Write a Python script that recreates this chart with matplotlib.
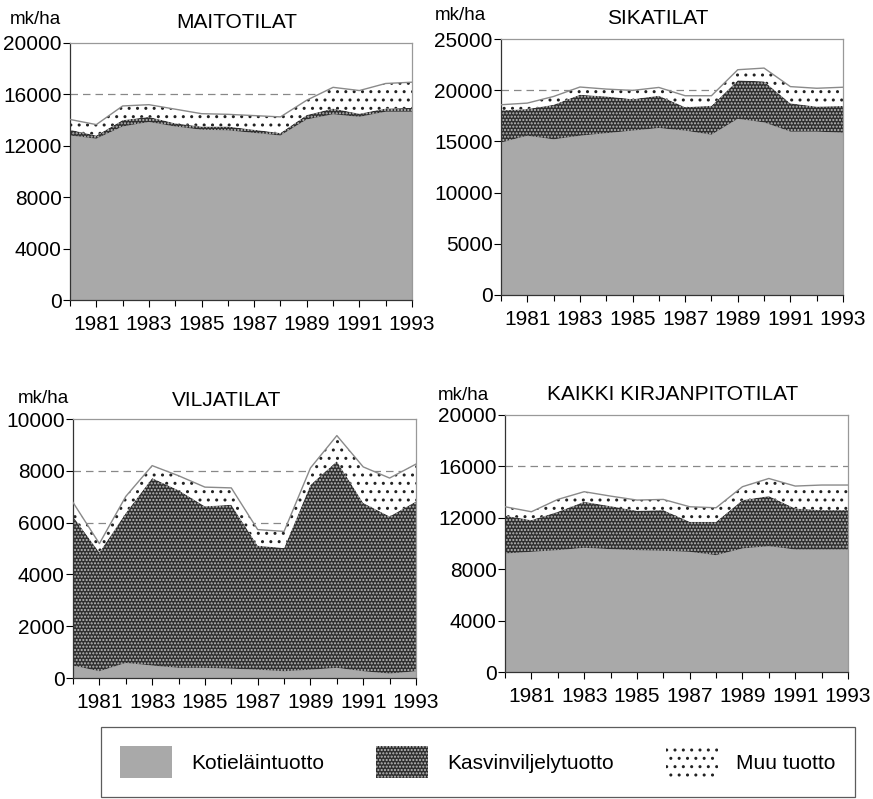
import matplotlib.pyplot as plt
import matplotlib.patches as mpatches
import numpy as np

plt.rcParams['font.family'] = ['Liberation Sans', 'DejaVu Sans']
plt.rcParams['hatch.linewidth'] = 1.0

years = list(range(1980, 1994))

# Maitotilat
maito_koti = [12800, 12550, 13500, 13850, 13500, 13250, 13200, 13000, 12800, 14050, 14450, 14250, 14650, 14650]
maito_kasvi = [450, 250, 500, 400, 250, 250, 300, 250, 200, 350, 450, 250, 250, 300]
maito_muu = [800, 850, 1100, 950, 1100, 1000, 950, 1100, 1250, 1150, 1650, 1800, 1950, 2000]

# Sikatilat
sika_koti = [14900, 15550, 15200, 15550, 15800, 16050, 16300, 16050, 15650, 17200, 16850, 15950, 15950, 15850]
sika_kasvi = [3130, 2610, 3380, 4010, 3590, 3080, 3160, 2300, 2830, 3760, 4010, 2770, 2450, 2610]
sika_muu = [550, 580, 810, 750, 720, 850, 810, 1110, 980, 1040, 1300, 1630, 1790, 1830]

# Viljatilat
vilja_koti = [480, 260, 580, 480, 390, 390, 360, 320, 260, 320, 390, 260, 170, 260]
vilja_kasvi = [5760, 4590, 5790, 7240, 6860, 6240, 6330, 4790, 4760, 7140, 7980, 6500, 6070, 6560]
vilja_muu = [540, 340, 640, 480, 560, 740, 650, 620, 640, 650, 990, 1390, 1480, 1440]

# Kaikki kirjanpitotilat
kaikki_koti = [9220, 9350, 9480, 9660, 9560, 9480, 9430, 9350, 9090, 9610, 9790, 9530, 9530, 9530]
kaikki_kasvi = [2940, 2470, 2990, 3590, 3350, 3070, 3170, 2340, 2600, 3770, 3900, 3200, 3070, 3070]
kaikki_muu = [700, 650, 960, 780, 780, 830, 830, 1170, 1090, 1040, 1370, 1740, 1950, 1950]

labels = ['Kotieläintuotto', 'Kasvinviljelytuotto', 'Muu tuotto']
grey = '#a9a9a9'
dark = '#2f2f2f'
kasvi_hatch = '.....'
muu_hatch = '..'

W, H = 873, 799
fig = plt.figure(figsize=(W / 100, H / 100), dpi=100)


def px_axes(l, t, r, b):
    return fig.add_axes([l / W, 1 - b / H, (r - l) / W, (b - t) / H])


def panel(box, koti, kasvi, muu, ymax, ystep, title, title_xy, unit_xy):
    ax = px_axes(*box)
    x = np.array(years)
    k1 = np.array(koti)
    k2 = k1 + np.array(kasvi)
    k3 = k2 + np.array(muu)
    # katkoviivat jäävät pinta-alojen alle
    for v in np.arange(ystep, ymax, ystep):
        ax.axhline(v, color='#888888', lw=0.9, ls=(0, (6, 4)), zorder=0)
    ax.fill_between(x, 0, k1, facecolor=grey, edgecolor='none', lw=0, zorder=2)
    ax.fill_between(x, k1, k2, facecolor=dark, edgecolor='#bdbdbd', hatch=kasvi_hatch, lw=0, zorder=2)
    ax.fill_between(x, k2, k3, facecolor='white', edgecolor='#222222', hatch=muu_hatch, lw=0, zorder=2)
    ax.plot(x, k3, color='#8a8a8a', lw=1.0, zorder=3)
    ax.set_xlim(1980, 1993)
    ax.set_ylim(0, ymax)
    ax.set_yticks(np.arange(0, ymax + 1, ystep))
    ax.set_yticklabels([str(int(v)) for v in np.arange(0, ymax + 1, ystep)])
    ax.set_xticks(years, minor=True)
    ax.set_xticks(range(1981, 1994, 2))
    ax.tick_params(axis='both', labelsize=15, direction='out', length=5, width=0.8)
    ax.tick_params(axis='x', which='minor', length=4, width=0.8)
    ax.tick_params(axis='x', pad=6)
    ax.tick_params(axis='y', pad=1)
    for s in ['top', 'right']:
        ax.spines[s].set_color('#999999')
        ax.spines[s].set_linewidth(0.9)
    for s in ['left', 'bottom']:
        ax.spines[s].set_color('#333333')
        ax.spines[s].set_linewidth(0.9)
    fig.text(title_xy[0] / W, 1 - title_xy[1] / H, title, fontsize=15,
             ha='center', va='center')
    fig.text(unit_xy[0] / W, 1 - unit_xy[1] / H, 'mk/ha', fontsize=13.5,
             ha='left', va='center')
    return ax


panel((70, 43, 412, 300), maito_koti, maito_kasvi, maito_muu, 20000, 4000,
      'MAITOTILAT', (237, 23), (10, 20))
panel((501, 39, 843, 295), sika_koti, sika_kasvi, sika_muu, 25000, 5000,
      'SIKATILAT', (658, 18), (435, 15))
panel((73, 419, 416, 678), vilja_koti, vilja_kasvi, vilja_muu, 10000, 2000,
      'VILJATILAT', (227, 401), (18, 398))
panel((505, 415, 848, 672), kaikki_koti, kaikki_kasvi, kaikki_muu, 20000, 4000,
      'KAIKKI KIRJANPITOTILAT', (673, 395), (438, 395))

handles = [
    mpatches.Patch(facecolor=grey, edgecolor='none'),
    mpatches.Patch(facecolor=dark, edgecolor='#bdbdbd', hatch=kasvi_hatch, lw=0),
    mpatches.Patch(facecolor='white', edgecolor='#222222', hatch=muu_hatch, lw=0),
]
leg = fig.legend(handles, labels, loc='center', bbox_to_anchor=(478 / W, 1 - 762 / H),
                 ncol=3, fontsize=15, frameon=True, fancybox=False,
                 handlelength=2.5, handleheight=2.0, handletextpad=0.9,
                 columnspacing=2.5, borderpad=0.9, borderaxespad=0.0)
leg.get_frame().set_edgecolor('#333333')
leg.get_frame().set_linewidth(0.9)

fig.savefig('out.png', dpi=100)
